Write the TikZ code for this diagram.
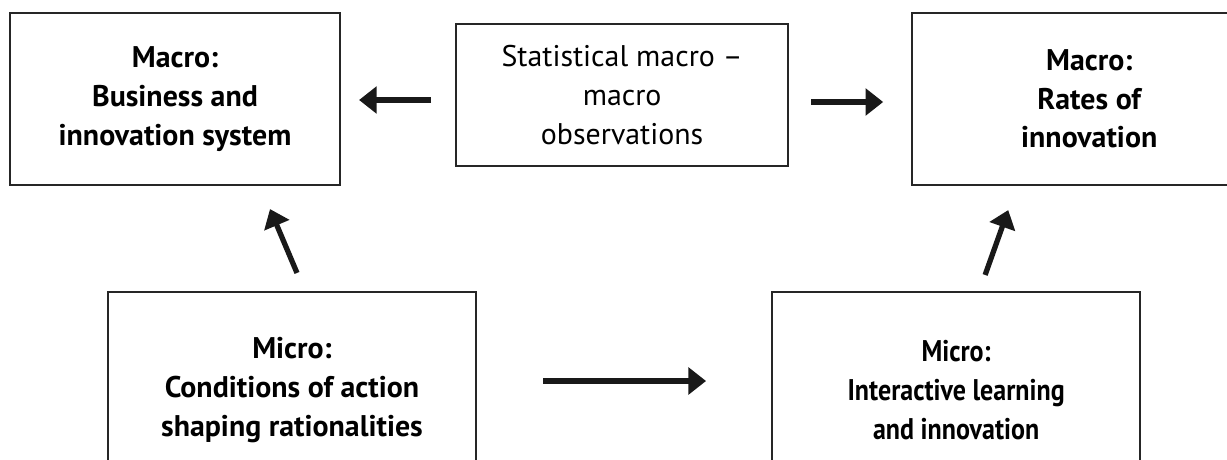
\documentclass[tikz,border=0pt]{standalone}
\usepackage{fontspec}
\setmainfont{PT Sans}
\usetikzlibrary{positioning,arrows.meta}
\tikzset{
  ->,
  >={Triangle[length=10pt,width=15pt]},
  arr/.style={line width=3pt,draw=black!90},
  levelbox/.style args={#1,#2}{
  draw=black!85,
  line width=1.2pt,
  align=center,
  font=\fontsize{17}{22}\selectfont\bfseries,
  minimum width=#1 cm,
  minimum height=#2 cm,
  },
  statbox/.style args={#1,#2}{
  levelbox={#1,#2},
  font=\fontsize{17}{22}\selectfont,
  }
}
\begin{document}
\begin{tikzpicture}
  \useasboundingbox (0,0) rectangle (24.54,-9.18);

  \node [levelbox={6.6,3.44}] (bis) at (3.5,-1.98) {Macro:\\ Business and\\ innovation system};
  \node [statbox={6.64,2.84},right=2.28cm of bis,yshift=0.08cm] (stat) {Statistical macro --\\ macro\\ observations};
  \node [levelbox={7.08,3.44},right=2.44cm of stat,yshift=-0.08cm] (rates) {Macro:\\ Rates of\\ innovation};
  \node [levelbox={7.36,3.92}] (cond) at (5.84,-7.8) {Micro:\\ Conditions of action\\ shaping rationalities};
  \node [levelbox={7.36,3.92},right=5.88cm of cond] (learn)
{\addfontfeature{FakeStretch=0.87}Micro:\\ \addfontfeature{FakeStretch=0.87}Interactive learning\\ \addfontfeature{FakeStretch=0.87}and innovation};

  \draw[arr,shorten <=0.48cm,shorten >=0.36cm] ([yshift=-1mm]stat.west) -- ([yshift=-1mm]stat.west -| bis.east);
  \draw[arr,shorten <=0.44cm,shorten >=0.56cm] ([yshift=-1.4mm]stat.east) -- ([yshift=-1.4mm]stat.east -| rates.west);
  \draw[arr,shorten <=1.32cm,shorten >=1.3cm] ([yshift=1.8mm]cond.east) -- ([yshift=1.8mm]cond.east -| learn.west);
  \draw[arr] ([xshift=1mm,yshift=3.6mm]cond.north) -- ([xshift=1.9cm,yshift=-4.6mm]bis.south);
  \draw[arr] ([xshift=5.8mm,yshift=3.2mm]learn.north) -- ([xshift=-1.62cm,yshift=-4.8mm]rates.south);
\end{tikzpicture}
\end{document}
